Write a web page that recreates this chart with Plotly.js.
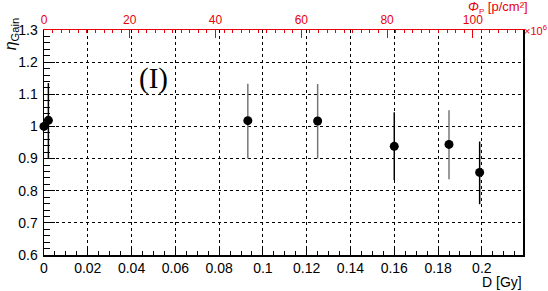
<!DOCTYPE html>
<html><head><meta charset="utf-8">
<script src="https://cdn.plot.ly/plotly-3.0.1.min.js"></script>
<style>html,body{margin:0;padding:0;background:#fff}#c{width:548px;height:291px}</style>
</head><body><div id="c"></div>
<script>
// Data
const doseGy   = [0.0,   0.002, 0.0931, 0.125, 0.160, 0.185, 0.199];
const etaGain  = [1.000, 1.019, 1.018,  1.017, 0.938, 0.944, 0.857];
const errUp    = [0.000, 0.116, 0.115,  0.115, 0.106, 0.106, 0.096];
const errDown  = [0.000, 0.119, 0.118,  0.117, 0.105, 0.108, 0.099];
const errColor = ['#000', '#000', '#777', '#777', '#000', '#777', '#000'];
const yTickVals = [0.6, 0.7, 0.8, 0.9, 1.0, 1.1, 1.2, 1.3];
const yTickText = ['0.6','0.7','0.8','0.9','1','1.1','1.2','1.3'];

const traces = doseGy.map((x, i) => ({
  type: 'scatter', mode: 'markers', x: [x], y: [etaGain[i]],
  marker: {color: '#000', size: 9},
  error_y: {type: 'data', symmetric: false, array: [errUp[i]], arrayminus: [errDown[i]],
            color: errColor[i], thickness: 1.5, width: 0, visible: errUp[i] > 0},
  showlegend: false, hoverinfo: 'skip', cliponaxis: false
}));
// empty trace registering the top (fluence) axis
traces.push({type: 'scatter', mode: 'markers', x: [], y: [], xaxis: 'x2', yaxis: 'y', showlegend: false});

const SANS = 'Liberation Sans, Arial, sans-serif';
const font = {family: SANS, size: 14, color: '#000'};
const RED = '#e8000b';
const layout = {
  width: 548, height: 291,
  margin: {l: 44, r: 25, t: 29.5, b: 36, pad: 0},
  paper_bgcolor: '#fff', plot_bgcolor: '#fff',
  font: font, showlegend: false,
  xaxis: {
    range: [0, 0.2188], dtick: 0.02, tick0: 0, showline: true, linecolor: '#000', linewidth: 1.5,
    ticks: 'inside', ticklen: 8, tickcolor: '#000', tickwidth: 1,
    minor: {dtick: 0.005, ticks: 'inside', ticklen: 4, tickcolor: '#000', showgrid: false},
    showgrid: true, gridcolor: '#000', griddash: 'dot', gridwidth: 1,
    zeroline: false, mirror: false, tickfont: font, ticklabelstandoff: 0
  },
  xaxis2: {
    overlaying: 'x', side: 'top', range: [0, 111.7], dtick: 20, tick0: 0,
    showline: true, linecolor: RED, linewidth: 1.5,
    ticks: 'inside', ticklen: 8, tickcolor: RED, tickwidth: 1,
    minor: {dtick: 2, ticks: 'inside', ticklen: 3, tickcolor: RED, showgrid: false},
    showgrid: false, zeroline: false,
    tickfont: {family: SANS, size: 12, color: RED}
  },
  yaxis: {
    range: [0.6, 1.3], tickvals: yTickVals, ticktext: yTickText,
    showline: true, linecolor: '#000', linewidth: 1.5, mirror: true,
    ticks: 'inside', ticklen: 11, tickcolor: '#000', tickwidth: 1,
    minor: {dtick: 0.02, ticks: 'inside', ticklen: 6, tickcolor: '#000', showgrid: false},
    showgrid: true, gridcolor: '#000', griddash: 'dot', gridwidth: 1,
    zeroline: false, tickfont: font, ticklabelstandoff: 2
  },
  annotations: [
    {text: 'D [Gy]', xref: 'paper', yref: 'paper', x: 1.0, y: -0.158, xanchor: 'right', yanchor: 'bottom',
     borderpad: 0, showarrow: false, font: {family: SANS, size: 14, color: '#000'}},
    {text: '<i>η</i><sub>Gain</sub>', xref: 'paper', yref: 'paper', x: -0.068, y: 1.065, xanchor: 'center', yanchor: 'top',
     textangle: -90, showarrow: false, font: {family: SANS, size: 16, color: '#000'}},
    {text: '(I)', xref: 'paper', yref: 'paper', x: 0.228, y: 0.785, xanchor: 'center', yanchor: 'middle',
     showarrow: false, font: {family: 'Liberation Serif, Times New Roman, serif', size: 29, color: '#000'}},
    {text: '<i>Φ</i><sub><span style="font-size:8px">P</span></sub> [p/cm²]', xref: 'paper', yref: 'paper', x: 1.012, y: 1.098, xanchor: 'right', yanchor: 'middle',
     borderpad: 0, showarrow: false, font: {family: SANS, size: 13, color: RED}},
    {text: '×10<sup>6</sup>', xref: 'paper', yref: 'paper', x: 0.998, y: 1.0, xanchor: 'left', yanchor: 'middle',
     showarrow: false, font: {family: SANS, size: 11, color: RED}}
  ]
};
Plotly.newPlot('c', traces, layout, {staticPlot: true, displayModeBar: false});
</script></body></html>
